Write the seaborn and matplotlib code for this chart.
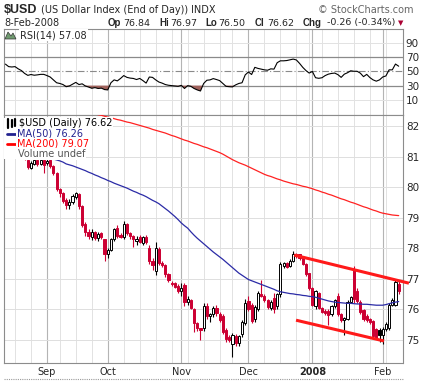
import numpy as np
import pandas as pd
import matplotlib
matplotlib.use("Agg")
import matplotlib.pyplot as plt
from matplotlib.patches import Polygon, Rectangle
import seaborn as sns

# days the index did not trade
holidays = ["2007-09-03", "2007-11-22", "2007-12-25", "2008-01-01"]

opens = [81.35,
         81.30, 81.20, 81.10, 81.05, 81.20, 81.00, 80.90, 80.64, 80.76, 80.90,
         80.76, 80.88, 80.78, 80.88, 80.70, 80.46, 79.95, 79.80, 79.58, 79.42,
         79.52, 79.68, 79.78, 79.38, 78.78, 78.55, 78.36, 78.52, 78.34, 78.50,
         78.30, 77.80, 77.95, 78.30, 78.66, 78.42, 78.36, 78.78, 78.50, 78.40,
         78.25, 78.38, 78.18, 78.38, 78.02, 77.60, 77.25, 77.98, 77.52, 77.45,
         77.15, 76.88, 76.85, 76.78, 76.62, 76.80, 76.25, 76.30, 76.00, 75.55,
         75.38, 75.38, 76.12, 75.78, 75.85, 76.05, 75.85, 75.80, 75.32, 75.10,
         74.88, 75.12, 74.90, 75.20, 75.55, 76.28, 76.15, 75.68, 76.00, 76.50,
         76.45, 76.30, 76.05, 76.38, 76.10, 76.50, 77.42, 77.52, 77.42, 77.58,
         77.75, 77.80, 77.70, 77.50, 77.18, 76.70, 76.10, 76.55, 76.05, 75.95,
         75.95, 75.85, 76.10, 76.45, 75.85, 75.65, 75.70, 76.25, 77.30, 76.62,
         76.25, 75.98, 75.78, 75.68, 75.62, 75.35, 75.33, 75.16, 75.35, 75.38,
         76.15, 76.15, 76.84]
highs = [81.50,
         81.45, 81.35, 81.25, 81.30, 81.28, 81.10, 80.92, 80.85, 80.92, 80.93,
         80.92, 80.92, 80.92, 80.92, 80.72, 80.50, 79.98, 79.85, 79.65, 79.60,
         79.78, 79.85, 79.82, 79.42, 78.85, 78.62, 78.62, 78.58, 78.55, 78.55,
         78.32, 78.00, 78.35, 78.65, 78.75, 78.50, 78.90, 78.82, 78.55, 78.45,
         78.40, 78.42, 78.40, 78.42, 78.10, 77.70, 78.20, 78.05, 77.60, 77.50,
         77.18, 76.92, 76.90, 76.82, 76.85, 76.85, 76.45, 76.35, 76.05, 75.60,
         75.40, 76.20, 76.20, 75.90, 76.10, 76.15, 75.92, 75.85, 75.38, 75.15,
         75.22, 75.20, 75.18, 75.65, 76.35, 76.45, 76.20, 76.15, 76.60, 76.95,
         76.50, 76.35, 76.30, 76.55, 76.55, 77.55, 77.55, 77.55, 77.65, 77.90,
         77.85, 77.82, 77.72, 77.52, 77.20, 76.72, 76.65, 76.58, 76.08, 76.00,
         76.02, 76.15, 76.35, 76.55, 75.90, 75.75, 76.30, 76.45, 77.42, 76.70,
         76.30, 76.02, 75.85, 75.72, 75.65, 75.40, 75.38, 75.42, 75.58, 76.20,
         76.38, 77.00, 76.97]
lows = [81.15,
        81.10, 81.00, 80.95, 81.00, 80.95, 80.90, 80.60, 80.58, 80.72, 80.70,
        80.72, 80.45, 80.74, 80.62, 80.40, 79.88, 79.68, 79.48, 79.30, 79.30,
        79.45, 79.62, 79.30, 78.70, 78.40, 78.30, 78.28, 78.28, 78.25, 78.30,
        77.60, 77.68, 77.90, 78.25, 78.35, 78.34, 78.30, 78.45, 78.32, 78.05,
        78.10, 78.18, 78.12, 78.15, 77.50, 77.30, 77.12, 77.45, 77.40, 77.05,
        76.90, 76.78, 76.70, 76.55, 76.45, 76.10, 76.15, 76.00, 75.25, 75.30,
        75.00, 75.30, 75.70, 75.60, 75.75, 75.80, 75.60, 75.20, 74.95, 74.95,
        74.45, 74.82, 74.80, 75.10, 75.50, 75.95, 75.55, 75.60, 75.95, 76.40,
        76.25, 76.00, 75.98, 75.90, 76.00, 76.40, 77.35, 77.35, 77.38, 77.55,
        77.68, 77.62, 77.45, 77.10, 76.64, 76.10, 76.02, 76.00, 75.88, 75.82,
        75.50, 75.80, 76.05, 75.78, 75.60, 75.16, 75.65, 76.20, 76.20, 76.20,
        75.85, 75.62, 75.58, 75.52, 75.05, 75.02, 74.95, 74.87, 75.30, 75.32,
        76.10, 76.10, 76.50]
closes = [81.30,
          81.20, 81.10, 81.05, 81.20, 81.00, 80.95, 80.66, 80.78, 80.88, 80.75,
          80.88, 80.72, 80.86, 80.68, 80.45, 79.95, 79.80, 79.55, 79.42, 79.52,
          79.70, 79.80, 79.38, 78.75, 78.52, 78.40, 78.52, 78.35, 78.48, 78.36,
          77.80, 77.95, 78.30, 78.62, 78.40, 78.36, 78.80, 78.50, 78.40, 78.30,
          78.30, 78.22, 78.36, 78.20, 77.58, 77.45, 78.00, 77.52, 77.45, 77.15,
          76.95, 76.82, 76.75, 76.60, 76.70, 76.25, 76.35, 76.05, 75.55, 75.40,
          75.33, 76.10, 75.78, 75.85, 76.05, 75.88, 75.65, 75.28, 75.02, 75.00,
          75.15, 74.90, 75.12, 75.60, 76.20, 76.00, 75.62, 76.08, 76.55, 76.45,
          76.32, 76.08, 76.25, 76.00, 76.50, 77.48, 77.52, 77.40, 77.60, 77.82,
          77.80, 77.70, 77.50, 77.15, 76.70, 76.15, 76.60, 76.05, 75.92, 75.88,
          75.82, 76.10, 76.30, 75.85, 75.65, 75.72, 76.25, 76.40, 76.35, 76.28,
          75.92, 75.68, 75.65, 75.58, 75.12, 75.08, 75.16, 75.35, 75.52, 76.15,
          76.32, 76.90, 76.62]
ma50 = [81.27,
        81.25, 81.23, 81.20, 81.18, 81.16, 81.13, 81.11, 81.09, 81.06, 81.04,
        81.01, 80.99, 80.97, 80.94, 80.92, 80.89, 80.86, 80.82, 80.76, 80.73,
        80.70, 80.66, 80.62, 80.58, 80.54, 80.49, 80.45, 80.40, 80.36, 80.31,
        80.27, 80.22, 80.18, 80.13, 80.09, 80.05, 80.01, 79.97, 79.92, 79.87,
        79.83, 79.78, 79.74, 79.69, 79.63, 79.57, 79.52, 79.46, 79.38, 79.30,
        79.22, 79.13, 79.04, 78.94, 78.83, 78.74, 78.66, 78.54, 78.43, 78.33,
        78.24, 78.15, 78.06, 77.97, 77.88, 77.80, 77.72, 77.64, 77.55, 77.46,
        77.37, 77.28, 77.19, 77.12, 77.05, 76.98, 76.94, 76.90, 76.86, 76.82,
        76.78, 76.74, 76.70, 76.66, 76.61, 76.58, 76.56, 76.54, 76.52, 76.51,
        76.49, 76.48, 76.46, 76.45, 76.43, 76.42, 76.40, 76.37, 76.34, 76.31,
        76.28, 76.26, 76.24, 76.23, 76.22, 76.21, 76.20, 76.20, 76.19, 76.18,
        76.18, 76.17, 76.17, 76.16, 76.15, 76.14, 76.14, 76.14, 76.16, 76.19,
        76.22, 76.24, 76.26]
ma200 = [83.12,
         83.10, 83.07, 83.05, 83.02, 83.00, 82.97, 82.94, 82.92, 82.89, 82.87,
         82.84, 82.81, 82.79, 82.76, 82.74, 82.71, 82.68, 82.66, 82.63, 82.61,
         82.58, 82.55, 82.53, 82.50, 82.48, 82.45, 82.42, 82.40, 82.37, 82.35,
         82.32, 82.29, 82.27, 82.24, 82.21, 82.19, 82.16, 82.13, 82.11, 82.08,
         82.05, 82.02, 81.99, 81.96, 81.93, 81.89, 81.86, 81.83, 81.80, 81.77,
         81.73, 81.69, 81.66, 81.62, 81.58, 81.54, 81.51, 81.47, 81.43, 81.40,
         81.36, 81.32, 81.29, 81.25, 81.21, 81.17, 81.13, 81.08, 81.02, 80.96,
         80.90, 80.85, 80.80, 80.76, 80.72, 80.67, 80.62, 80.57, 80.52, 80.47,
         80.42, 80.38, 80.35, 80.31, 80.27, 80.24, 80.20, 80.17, 80.14, 80.11,
         80.09, 80.06, 80.03, 80.01, 79.98, 79.95, 79.91, 79.88, 79.84, 79.81,
         79.77, 79.74, 79.70, 79.66, 79.62, 79.59, 79.55, 79.51, 79.48, 79.44,
         79.40, 79.36, 79.33, 79.29, 79.25, 79.22, 79.18, 79.15, 79.13, 79.11,
         79.09, 79.08, 79.07]
rsi14 = [60.0,
         56.5, 56.0, 56.5, 53.4, 51.0, 47.0, 44.3, 45.5, 44.5, 45.0,
         45.7, 45.7, 44.0, 42.0, 38.0, 34.0, 33.0, 31.5, 28.5, 29.5,
         32.0, 34.5, 31.5, 32.5, 29.5, 28.0, 26.3, 27.2, 26.0, 26.5,
         24.5, 24.0, 34.0, 38.0, 36.6, 40.0, 44.0, 41.5, 40.5, 40.0,
         38.5, 40.0, 37.0, 33.5, 42.0, 41.5, 38.0, 35.0, 33.5, 31.5,
         30.5, 30.0, 29.5, 29.0, 30.4, 26.0, 30.0, 29.0, 26.0, 24.0,
         22.5, 33.0, 37.5, 38.0, 39.8, 38.5, 37.0, 33.0, 29.0, 28.5,
         28.2, 31.0, 33.0, 34.0, 45.0, 49.0, 45.5, 55.5, 54.0, 53.0,
         52.0, 51.5, 53.4, 53.0, 62.0, 64.6, 64.6, 65.0, 66.0, 67.0,
         65.8, 61.0, 55.5, 51.0, 47.5, 49.7, 41.0, 40.2, 41.0, 44.0,
         46.0, 47.0, 47.5, 45.3, 41.5, 46.0, 48.0, 50.7, 50.0, 50.0,
         47.4, 42.5, 45.7, 41.2, 38.0, 36.2, 38.0, 42.0, 43.5, 52.0,
         52.0, 60.1, 57.08]

# channel lines drawn on the chart (trading-day position, value)
chan_top_x = [90.3, 126.2]
chan_top_y = [77.78, 76.86]
chan_bot_x = [90.9, 118.4]
chan_bot_y = [75.65, 74.97]

month_labels = ["Sep", "Oct", "Nov", "Dec", "2008", "Feb"]
price_ticks = [75, 76, 77, 78, 79, 80, 81, 82]
rsi_ticks = [10, 30, 50, 70, 90]

dates = pd.bdate_range("2007-08-15", "2008-02-08")
dates = dates[~dates.isin(pd.to_datetime(holidays))]
df = pd.DataFrame({"date": dates, "open": opens, "high": highs, "low": lows,
                   "close": closes, "ma50": ma50, "ma200": ma200, "rsi": rsi14})
df["pos"] = np.arange(len(df))

RED = "#cc0033"
up = (df["close"] >= df["close"].shift(1).fillna(df["open"])).values
edge = np.where(up, "black", RED)
hollow = (df["close"] > df["open"]).values
face = np.where(hollow, "white", edge)

sns.set_style("white")
plt.rcParams["font.family"] = ["DejaVu Sans"]

W, H = 433, 381
fig = plt.figure(figsize=(W / 100, H / 100), dpi=100)
ax_r = fig.add_axes([4 / W, 1 - 115 / H, 399 / W, 86 / H])
ax = fig.add_axes([4 / W, 1 - 363 / H, 399 / W, 248 / H])

week_starts = df.index[df["date"].dt.weekday.diff() < 0]
month_starts = df.index[df["date"].dt.month.diff().fillna(0) != 0]

for a in (ax, ax_r):
    for p in week_starts:
        if p not in month_starts:
            a.axvline(p, color="#e2e2e2", lw=0.7, zorder=0)
    for p in month_starts:
        a.axvline(p, color="#b4b4b4", lw=0.8, zorder=0)
    a.set_xlim(-0.45, len(df) + 0.35)
    for s in a.spines.values():
        s.set_color("#8c8c8c")
        s.set_linewidth(0.8)

# ---- RSI panel
for v in (10, 90):
    ax_r.axhline(v, color="#e2e2e2", lw=0.7, zorder=0)
ax_r.axhline(30, color="#8a8a8a", lw=0.9, zorder=1)
ax_r.axhline(70, color="#8a8a8a", lw=0.9, zorder=1)
ax_r.axhline(50, color="#8a8a8a", lw=0.8, dashes=(6, 2, 1, 2), zorder=1)
r = df["rsi"].values
ax_r.fill_between(df["pos"], r, 30, where=r < 30, interpolate=True,
                  color="#a0625c", lw=0, zorder=2)
sns.lineplot(data=df, x="pos", y="rsi", ax=ax_r, color="black", lw=0.8, zorder=3)
ax_r.set_ylim(-11, 109)
ax_r.set_yticks(rsi_ticks)
ax_r.yaxis.tick_right()
ax_r.tick_params(axis="y", length=0, pad=2, labelsize=7.5)
ax_r.set_xticks([])
ax_r.set_xlabel("")
ax_r.set_ylabel("")

# ---- price panel
for v in price_ticks:
    ax.axhline(v, color="#dedede", lw=0.7, zorder=0)
ax.vlines(df["pos"], df["low"], df["high"], colors=edge, lw=0.8, zorder=3)
body = np.maximum((df["close"] - df["open"]).abs(), 0.015)
ax.bar(df["pos"], body, bottom=np.minimum(df["open"], df["close"]), width=0.68,
       color=face, edgecolor=edge, linewidth=0.7, zorder=4)
sns.lineplot(data=df, x="pos", y="ma50", ax=ax, color="#2b2ba6", lw=0.9, zorder=5)
sns.lineplot(data=df, x="pos", y="ma200", ax=ax, color="#ff2222", lw=0.9, zorder=5)
ax.plot(chan_top_x, chan_top_y, color="#ff1a1a", lw=2.2, zorder=6,
        clip_on=False, solid_capstyle="butt")
ax.plot(chan_bot_x, chan_bot_y, color="#ff1a1a", lw=2.2, zorder=6,
        solid_capstyle="butt")
ax.set_ylim(74.25, 82.36)
ax.set_yticks(price_ticks)
ax.yaxis.tick_right()
ax.tick_params(axis="y", length=0, pad=2, labelsize=7.5)
ax.set_xticks(list(month_starts))
ax.set_xticklabels(month_labels)
ax.tick_params(axis="x", length=0, pad=3, labelsize=7)
for t in ax.get_xticklabels():
    if t.get_text() == "2008":
        t.set_fontweight("bold")
ax.spines["bottom"].set_linestyle((0, (1, 1)))
ax.set_xlabel("")
ax.set_ylabel("")


def fx(px):
    return px / W


def fy(py):
    return 1 - py / H


# ---- header
fig.text(fx(4), fy(10), "$USD", fontsize=9, weight="bold",
         family="Liberation Sans", va="center")
fig.text(fx(41), fy(10), "(US Dollar Index (End of Day))", fontsize=7, va="center")
fig.text(fx(191), fy(10), "INDX", fontsize=7, va="center")
fig.text(fx(318), fy(10), "\u00a9 StockCharts.com", fontsize=7,
         color="#666666", va="center")
fig.text(fx(4), fy(23), "8-Feb-2008", fontsize=7, va="center")
for x0, lab, x1, val in [(108, "Op", 123, "76.84"), (159, "Hi", 170, "76.97"),
                         (205, "Lo", 218, "76.50"), (255, "Cl", 267, "76.62"),
                         (303, "Chg", 327, "-0.26 (-0.34%)")]:
    fig.text(fx(x0), fy(23), lab, fontsize=7, weight="bold",
             family="Liberation Sans", va="center")
    fig.text(fx(x1), fy(23), val, fontsize=6.8, va="center")
fig.text(fx(398), fy(23), "\u25bc", fontsize=5, color="#aa0033", va="center")

# ---- panel legends
box = dict(facecolor="white", edgecolor="none", pad=0.6)
fig.text(fx(20), fy(35), "RSI(14) 57.08", fontsize=7, va="center", bbox=box)
fig.add_artist(Polygon([[fx(5), fy(39)], [fx(8), fy(32)], [fx(11), fy(36)],
                        [fx(13), fy(33)], [fx(16), fy(39)]], closed=True,
                       facecolor="#6f9a6f", edgecolor="#333333", lw=0.5,
                       transform=fig.transFigure))
rows = [("$USD (Daily) 76.62", "black", 19, 123),
        ("MA(50) 76.26", "#22228f", 17, 133.5),
        ("MA(200) 79.07", "#ff0000", 17, 144),
        ("Volume undef", "#555555", 18, 154)]
fig.add_artist(Rectangle((fx(4), fy(159)), fx(82) - fx(4), fy(118) - fy(159),
                         facecolor="white", edgecolor="none",
                         transform=fig.transFigure, zorder=2))
for txt, col, x0, y0 in rows:
    fig.text(fx(x0), fy(y0), txt, fontsize=7, color=col, va="center", bbox=box)
fig.add_artist(plt.Line2D([fx(7), fx(16)], [fy(133.5), fy(133.5)], color="#22228f",
                          lw=2, transform=fig.transFigure))
fig.add_artist(plt.Line2D([fx(7), fx(16)], [fy(144), fy(144)], color="#ff0000",
                          lw=2, transform=fig.transFigure))
for bx, bh in [(7, 6), (10, 8), (13, 5)]:
    fig.add_artist(Rectangle((fx(bx), fy(157)), fx(2), bh / H, facecolor="#555555",
                             edgecolor="none", transform=fig.transFigure))
for bx, y1, y2 in [(8, 119, 128), (12, 120, 127), (15, 119, 126)]:
    fig.add_artist(plt.Line2D([fx(bx), fx(bx)], [fy(y1), fy(y2)], color="black",
                              lw=1.6, transform=fig.transFigure))

fig.add_artist(plt.Line2D([fx(4), fx(403)], [fy(379), fy(379)], color="#9a9a9a",
                          lw=0.8, ls=(0, (1, 1)), transform=fig.transFigure))

fig.savefig("out.png", dpi=100)
